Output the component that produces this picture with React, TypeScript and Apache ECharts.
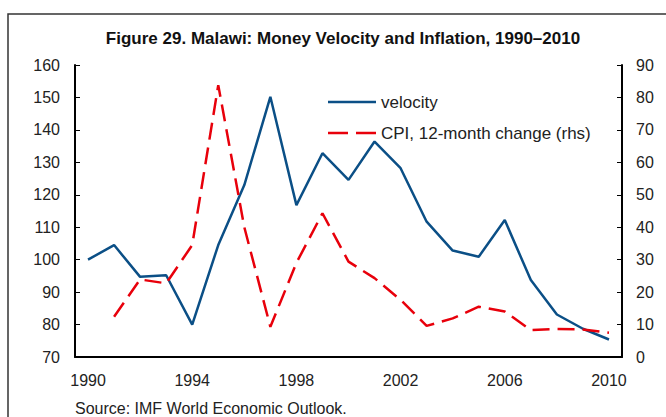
import React, { useEffect, useRef } from "react";
import * as echarts from "echarts";

const years = ["1990","1991","1992","1993","1994","1995","1996","1997","1998","1999","2000","2001","2002","2003","2004","2005","2006","2007","2008","2009","2010"];
const velocity = [100, 104.5, 94.7, 95.2, 80, 104.5, 123, 150.2, 116.8, 132.8, 124.6, 136.4, 128.2, 111.7, 102.8, 100.9, 112.2, 93.7, 83.1, 78.7, 75.4];
const cpi: (number | null)[] = [null, 12.4, 23.9, 22.7, 34.5, 83.8, 40, 9.3, 29, 44.3, 29.4, 24.3, 17.6, 9.6, 11.9, 15.5, 14, 8.3, 8.6, 8.5, 7.5];
const seriesNames = ["velocity", "CPI, 12-month change (rhs)"];

const titleText = "Figure 29. Malawi: Money Velocity and Inflation, 1990\u20132010";
const sourceText = "Source: IMF World Economic Outlook.";

const BLUE = "#0b4f86";
const RED = "#e8000b";

export default function App() {
  const ref = useRef<HTMLDivElement>(null);
  useEffect(() => {
    document.body.style.margin = "0";
    const chart = echarts.init(ref.current!, undefined, { renderer: "svg" });
    const font = "Liberation Sans, Arial, sans-serif";
    chart.setOption({
      animation: false,
      backgroundColor: "#fff",
      textStyle: { fontFamily: font },
      grid: { left: 75, right: 44, top: 65, bottom: 60, containLabel: false },
      graphic: [
        {
          type: "rect",
          shape: { x: 8, y: 14, width: 700, height: 450 },
          style: { fill: "none", stroke: "#333", lineWidth: 1.5 },
          silent: true,
        },
        {
          type: "text",
          x: 343,
          y: 38,
          style: { text: titleText, font: `bold 17px ${font}`, fill: "#111", align: "center", verticalAlign: "middle" },
        },
        {
          type: "text",
          x: 75,
          y: 408,
          style: { text: sourceText, font: `16px ${font}`, fill: "#222", verticalAlign: "middle" },
        },
        {
          type: "line",
          shape: { x1: 328, y1: 102, x2: 376, y2: 102 },
          style: { stroke: BLUE, lineWidth: 2.5 },
        },
        {
          type: "line",
          shape: { x1: 328, y1: 133, x2: 376, y2: 133 },
          style: { stroke: RED, lineWidth: 2.5, lineDash: [20, 8] },
        },
        {
          type: "text",
          x: 381,
          y: 102,
          style: { text: seriesNames[0], font: `17px ${font}`, fill: "#222", verticalAlign: "middle" },
        },
        {
          type: "text",
          x: 381,
          y: 133,
          style: { text: seriesNames[1], font: `17px ${font}`, fill: "#222", verticalAlign: "middle" },
        },
      ],
      legend: { show: false },
      xAxis: {
        type: "category",
        data: years,
        boundaryGap: true,
        axisLine: { lineStyle: { color: "#000", width: 2 } },
        axisTick: { inside: true, interval: 3, length: 5, lineStyle: { color: "#000", width: 1 } },
        axisLabel: { interval: 3, fontSize: 16, color: "#222", margin: 15, fontFamily: font },
        splitLine: { show: false },
      },
      yAxis: [
        {
          type: "value",
          min: 70,
          max: 160,
          interval: 10,
          axisLine: { show: true, lineStyle: { color: "#000", width: 2 } },
          axisTick: { show: true, inside: true, length: 5, lineStyle: { color: "#000" } },
          axisLabel: { fontSize: 16, color: "#222", margin: 15, fontFamily: font },
          splitLine: { show: false },
        },
        {
          type: "value",
          min: 0,
          max: 90,
          interval: 10,
          position: "right",
          axisLine: { show: true, lineStyle: { color: "#000", width: 2 } },
          axisTick: { show: true, inside: true, length: 5, lineStyle: { color: "#000" } },
          axisLabel: { fontSize: 16, color: "#222", margin: 14, fontFamily: font },
          splitLine: { show: false },
        },
      ],
      series: [
        {
          name: seriesNames[0],
          type: "line",
          data: velocity,
          yAxisIndex: 0,
          symbol: "none",
          lineStyle: { color: BLUE, width: 2.5 },
          itemStyle: { color: BLUE },
        },
        {
          name: seriesNames[1],
          type: "line",
          data: cpi,
          yAxisIndex: 1,
          symbol: "none",
          connectNulls: false,
          lineStyle: { color: RED, width: 2.5, type: [17, 8] },
          itemStyle: { color: RED },
        },
      ],
    });
    return () => chart.dispose();
  }, []);
  return <div ref={ref} style={{ width: 666, height: 417 }} />;
}
